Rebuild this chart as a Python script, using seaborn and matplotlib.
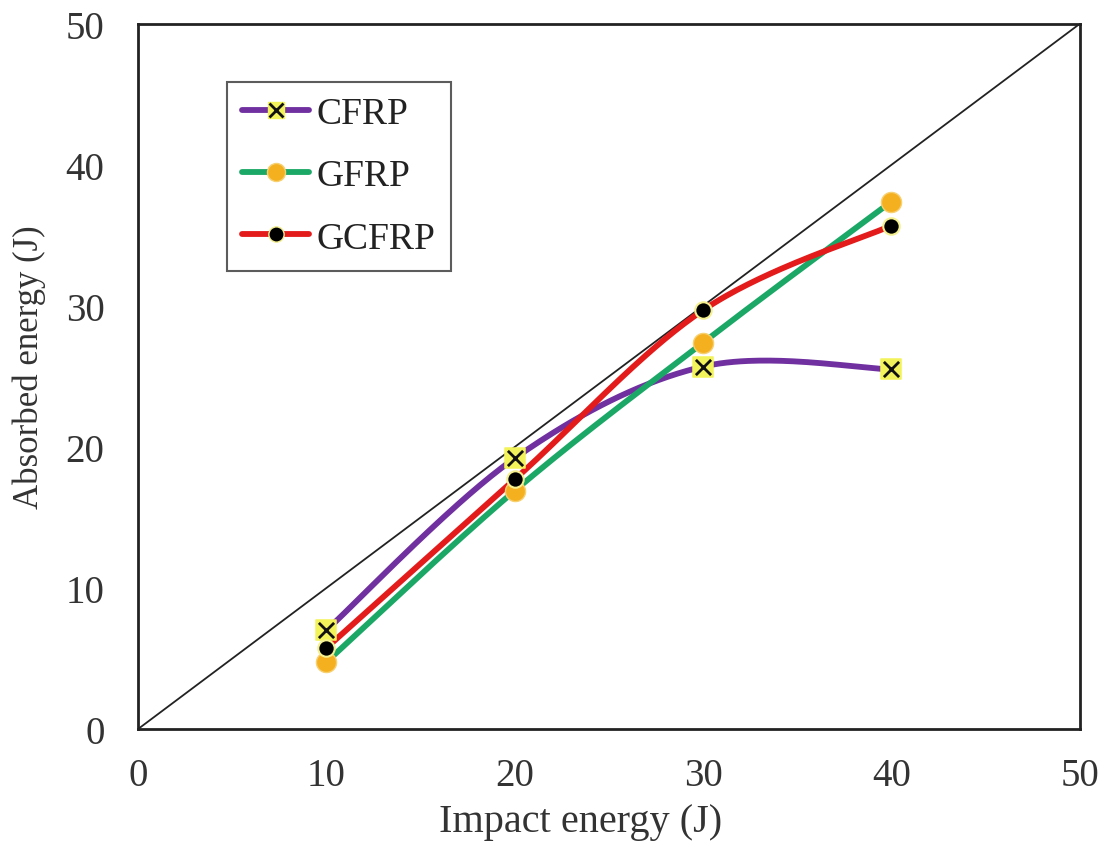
import numpy as np
import pandas as pd
import seaborn as sns
import matplotlib.pyplot as plt
from matplotlib.lines import Line2D

# values
impact = [10, 20, 30, 40]
cfrp = [7.0, 19.2, 25.7, 25.5]
gfrp = [4.75, 16.9, 27.4, 37.4]
gcfrp = [5.75, 17.7, 29.7, 35.7]

series_names = ["CFRP", "GFRP", "GCFRP"]
line_colors = {"CFRP": "#7030A0", "GFRP": "#1BA866", "GCFRP": "#E31B1B"}


def smooth(xs, ys, n=60):
    # excel-like smoothed line: catmull-rom turned into cubic bezier pieces
    p = np.column_stack([xs, ys]).astype(float)
    pts = []
    for i in range(len(p) - 1):
        p0 = p[i - 1] if i > 0 else p[i]
        p3 = p[i + 2] if i + 2 < len(p) else p[i + 1]
        c1 = p[i] + (p[i + 1] - p0) / 6.0
        c2 = p[i + 1] - (p3 - p[i]) / 6.0
        t = np.linspace(0, 1, n)[:, None]
        seg = ((1 - t) ** 3) * p[i] + 3 * ((1 - t) ** 2) * t * c1 \
            + 3 * (1 - t) * t ** 2 * c2 + t ** 3 * p[i + 1]
        pts.append(seg if i == 0 else seg[1:])
    pts = np.vstack(pts)
    return pts[:, 0], pts[:, 1]


sns.set_style("white")
plt.rcParams["font.family"] = ["Liberation Serif", "DejaVu Serif"]

fig = plt.figure(figsize=(11.03, 8.54), dpi=100)
ax = fig.add_axes([0.125, 0.145, 0.854, 0.826])

# diagonal reference line
diag = pd.DataFrame({"x": [0, 50], "y": [0, 50]})
sns.lineplot(data=diag, x="x", y="y", color="#222222", lw=1.3, ax=ax)

data = {"CFRP": cfrp, "GFRP": gfrp, "GCFRP": gcfrp}
for name in series_names:
    sx, sy = smooth(impact, data[name])
    curve = pd.DataFrame({"x": sx, "y": sy})
    sns.lineplot(data=curve, x="x", y="y", sort=False, color=line_colors[name],
                 lw=4.2, ax=ax, zorder=3)

pts = pd.DataFrame({"x": impact, "y": cfrp})
sns.scatterplot(data=pts, x="x", y="y", marker="s", s=190, color="#F2F25A",
                edgecolor="#F2F25A", ax=ax, zorder=4)
sns.scatterplot(data=pts, x="x", y="y", marker="x", s=120, color="#111111",
                linewidth=2, ax=ax, zorder=5)
pts = pd.DataFrame({"x": impact, "y": gfrp})
sns.scatterplot(data=pts, x="x", y="y", marker="o", s=210, color="#F5B020",
                edgecolor="#F7D070", linewidth=1, ax=ax, zorder=4)
pts = pd.DataFrame({"x": impact, "y": gcfrp})
sns.scatterplot(data=pts, x="x", y="y", marker="o", s=140, color="black",
                edgecolor="#F4F090", linewidth=1.5, ax=ax, zorder=4)

ax.set_xlim(0, 50)
ax.set_ylim(0, 50)
ax.set_xticks([0, 10, 20, 30, 40, 50])
ax.set_yticks([0, 10, 20, 30, 40, 50])
ax.tick_params(axis="both", labelsize=28, length=0)
ax.tick_params(axis="x", pad=20)
ax.tick_params(axis="y", pad=24)
ax.set_xlabel("Impact energy (J)", fontsize=29, color="#333333")
ax.set_ylabel("Absorbed energy (J)", fontsize=25, color="#333333")
ax.xaxis.set_label_coords(0.47, -0.105)
ax.yaxis.set_label_coords(-0.098, 0.515)
for lab in ax.get_xticklabels() + ax.get_yticklabels():
    lab.set_color("#333333")
for sp in ax.spines.values():
    sp.set_color("#222222")
    sp.set_linewidth(2)

# legend
h_cfrp = (Line2D([], [], color=line_colors["CFRP"], lw=4.2),
          Line2D([], [], marker="s", ms=12, color="#F2F25A", ls="none"),
          Line2D([], [], marker="x", ms=10, mew=2, color="#111111", ls="none"))
h_gfrp = (Line2D([], [], color=line_colors["GFRP"], lw=4.2),
          Line2D([], [], marker="o", ms=13, color="#F5B020", mec="#F7D070", ls="none"))
h_gcfrp = (Line2D([], [], color=line_colors["GCFRP"], lw=4.2),
           Line2D([], [], marker="o", ms=11, color="black", mec="#F4F090", ls="none"))
leg = ax.legend([h_cfrp, h_gfrp, h_gcfrp], series_names, loc="upper left",
                bbox_to_anchor=(0.0945, 0.918), borderaxespad=0, fontsize=27,
                frameon=True, fancybox=False, edgecolor="#333333",
                handlelength=1.8, handletextpad=0.2, labelspacing=0.74,
                borderpad=0.4)
leg.get_frame().set_linewidth(1.5)
for t in leg.get_texts():
    t.set_color("#222222")

fig.savefig("out.png", dpi=100)
